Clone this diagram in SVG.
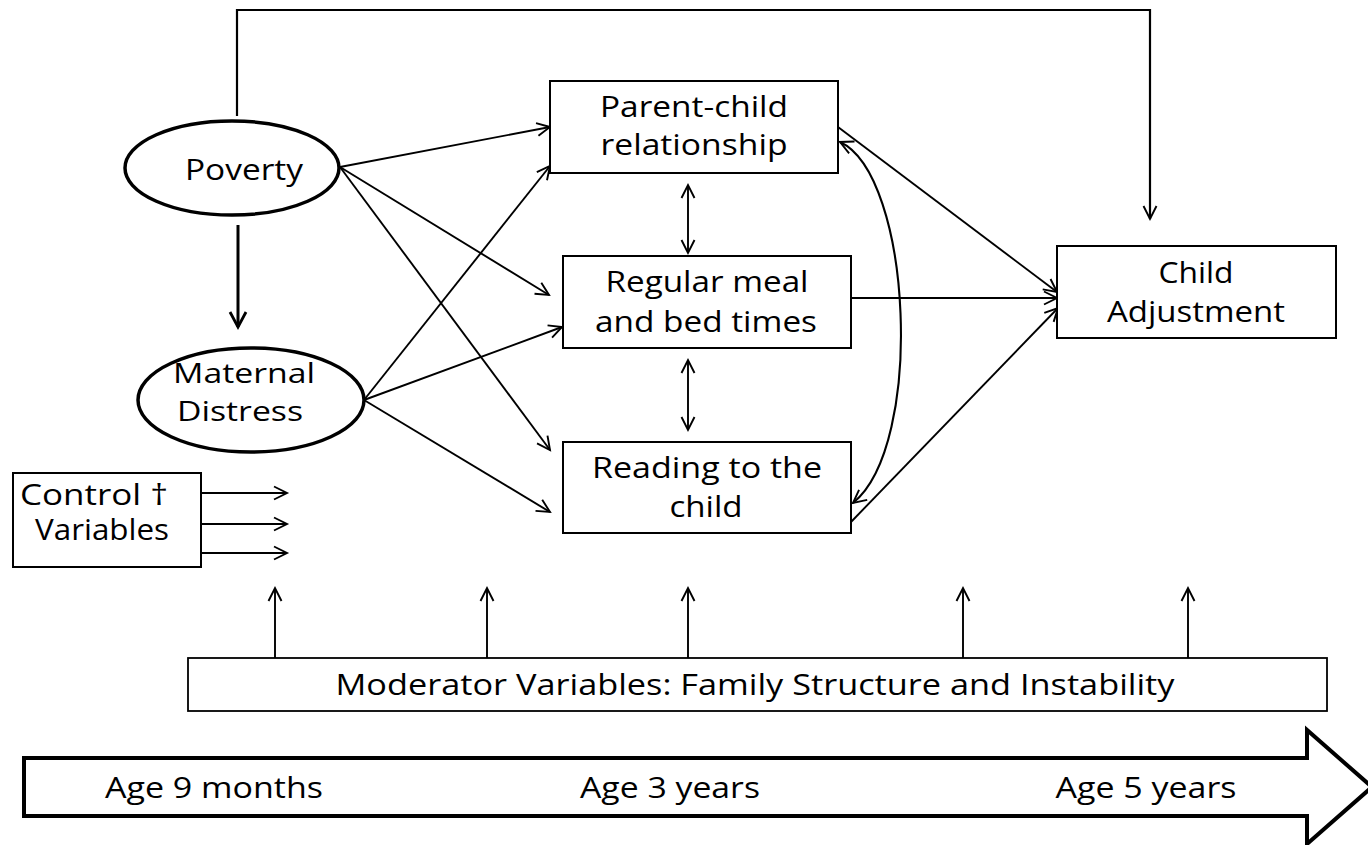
<svg xmlns="http://www.w3.org/2000/svg" width="1368" height="845" viewBox="0 0 1368 845">
<style>
text{font-family:"Open Sans","Liberation Sans",sans-serif;font-size:29px;fill:#000;text-anchor:middle}
.sm{font-size:27px}
.box{fill:#fff;stroke:#000;stroke-width:2}
.ell{fill:#fff;stroke:#000;stroke-width:3.5}
.c{fill:none;stroke:#000;stroke-width:1.9}
.a{marker-end:url(#ah)}
.b{marker-start:url(#ahs);marker-end:url(#ah)}
</style>
<defs>
<marker id="ah" markerUnits="userSpaceOnUse" markerWidth="18" markerHeight="18" refX="14" refY="8" orient="auto" viewBox="0 0 18 16">
<path d="M1,1.5 L14,8 L1,14.5" fill="none" stroke="#000" stroke-width="1.9"/>
</marker>
<marker id="ahs" markerUnits="userSpaceOnUse" markerWidth="18" markerHeight="18" refX="14" refY="8" orient="auto-start-reverse" viewBox="0 0 18 16">
<path d="M1,1.5 L14,8 L1,14.5" fill="none" stroke="#000" stroke-width="1.9"/>
</marker>
<marker id="ahb" markerUnits="userSpaceOnUse" markerWidth="20" markerHeight="20" refX="16" refY="9" orient="auto" viewBox="0 0 20 18">
<path d="M1,1 L16,9 L1,17" fill="none" stroke="#000" stroke-width="2.8"/>
</marker>
</defs>

<g id="connectors">
<polyline class="c a" points="237,116 237,10 1150,10 1150,219" style="stroke-width:2.2"/>
<line x1="238" y1="225" x2="238" y2="327" style="stroke:#000;stroke-width:3;marker-end:url(#ahb)"/>
<line class="c a" x1="340" y1="167" x2="550" y2="127"/>
<line class="c a" x1="340" y1="167" x2="549" y2="295"/>
<line class="c a" x1="340" y1="167" x2="550" y2="450"/>
<line class="c a" x1="364" y1="400" x2="550" y2="166"/>
<line class="c a" x1="364" y1="400" x2="562" y2="327"/>
<line class="c a" x1="364" y1="400" x2="550" y2="512"/>
<line class="c b" x1="688" y1="185" x2="688" y2="253"/>
<line class="c b" x1="688" y1="360" x2="688" y2="430"/>
<path class="c b" d="M840,142 C912,175 925,445 853,503" style="stroke-width:2.1"/>
<line class="c a" x1="838" y1="127" x2="1057" y2="292"/>
<line class="c a" x1="851" y1="298" x2="1057" y2="298"/>
<line class="c a" x1="851" y1="522" x2="1058" y2="308"/>
<line class="c a" x1="201" y1="493" x2="287" y2="493"/>
<line class="c a" x1="201" y1="524" x2="287" y2="524"/>
<line class="c a" x1="201" y1="553" x2="287" y2="553"/>
<line class="c a" x1="275" y1="658" x2="275" y2="588"/>
<line class="c a" x1="487" y1="658" x2="487" y2="588"/>
<line class="c a" x1="688" y1="658" x2="688" y2="588"/>
<line class="c a" x1="963" y1="658" x2="963" y2="588"/>
<line class="c a" x1="1188" y1="658" x2="1188" y2="588"/>
</g>

<g id="poverty">
<ellipse class="ell" cx="232" cy="168" rx="107" ry="47"/>
<text x="244" y="180" textLength="118" lengthAdjust="spacingAndGlyphs">Poverty</text>
</g>

<g id="maternal-distress">
<ellipse class="ell" cx="251" cy="400" rx="113" ry="52"/>
<text class="sm" x="244" y="383" textLength="142" lengthAdjust="spacingAndGlyphs">Maternal</text>
<text class="sm" x="240" y="421" textLength="126" lengthAdjust="spacingAndGlyphs">Distress</text>
</g>

<g id="control-variables">
<rect class="box" x="13" y="473" width="188" height="94"/>
<text x="94" y="505" textLength="148" lengthAdjust="spacingAndGlyphs">Control †</text>
<text x="102" y="540" textLength="134" lengthAdjust="spacingAndGlyphs">Variables</text>
</g>

<g id="parent-child">
<rect class="box" x="550" y="81" width="288" height="92"/>
<text x="694" y="117" textLength="188" lengthAdjust="spacingAndGlyphs">Parent-child</text>
<text x="694" y="155" textLength="187" lengthAdjust="spacingAndGlyphs">relationship</text>
</g>

<g id="regular-meal">
<rect class="box" x="563" y="256" width="288" height="92"/>
<text x="707" y="292" textLength="203" lengthAdjust="spacingAndGlyphs">Regular meal</text>
<text x="706" y="332" textLength="222" lengthAdjust="spacingAndGlyphs">and bed times</text>
</g>

<g id="reading">
<rect class="box" x="563" y="442" width="288" height="91"/>
<text x="707" y="478" textLength="230" lengthAdjust="spacingAndGlyphs">Reading to the</text>
<text x="706" y="517" textLength="73" lengthAdjust="spacingAndGlyphs">child</text>
</g>

<g id="child-adjustment">
<rect class="box" x="1057" y="246" width="279" height="92"/>
<text x="1196" y="283" textLength="75" lengthAdjust="spacingAndGlyphs">Child</text>
<text x="1196" y="322" textLength="178" lengthAdjust="spacingAndGlyphs">Adjustment</text>
</g>

<g id="moderator">
<rect class="box" x="188" y="658" width="1139" height="53" style="stroke-width:1.8"/>
<text x="755" y="695" textLength="839" lengthAdjust="spacingAndGlyphs">Moderator Variables: Family Structure and Instability</text>
</g>

<g id="timeline">
<polygon points="24,758 1307,758 1307,730 1372,787 1307,844 1307,816 24,816" fill="#fff" stroke="#000" stroke-width="4"/>
<text x="214" y="798" textLength="218" lengthAdjust="spacingAndGlyphs">Age 9 months</text>
<text x="670" y="798" textLength="180" lengthAdjust="spacingAndGlyphs">Age 3 years</text>
<text x="1146" y="798" textLength="181" lengthAdjust="spacingAndGlyphs">Age 5 years</text>
</g>
</svg>
